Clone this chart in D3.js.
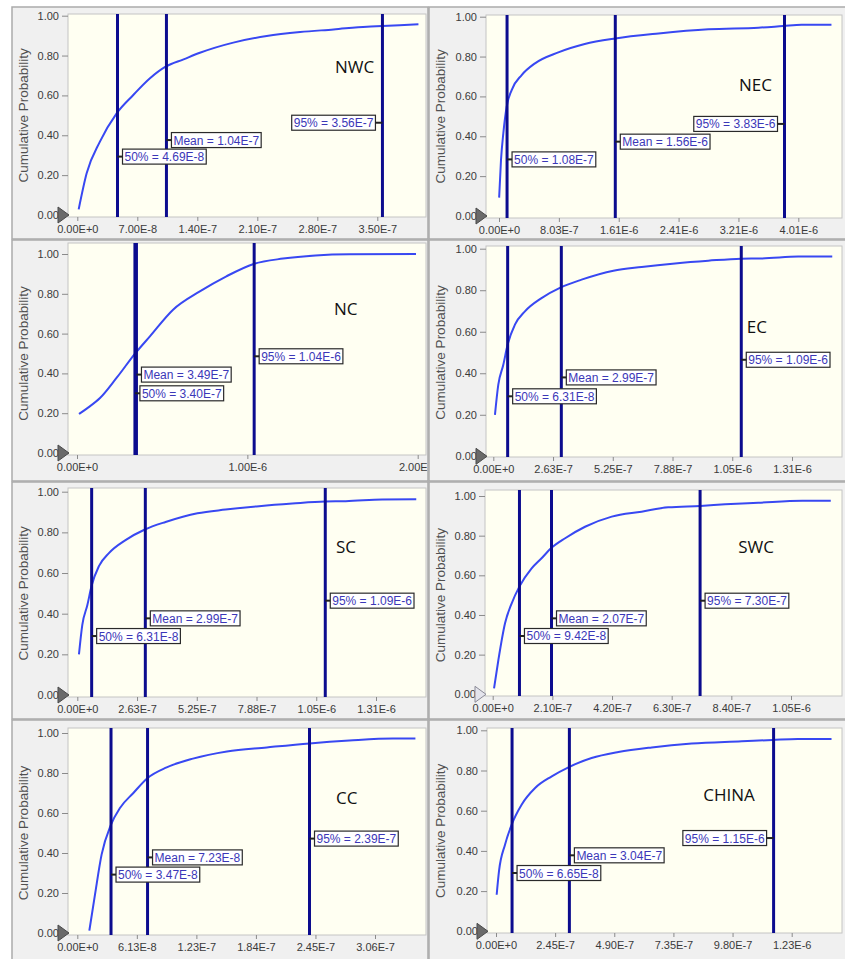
<!DOCTYPE html>
<html>
<head>
<meta charset="utf-8">
<script src="https://d3js.org/d3.v7.min.js"></script>
<style>
  body { margin: 0; background: #fff; }
  .tick text { font-family: "Liberation Sans", Arial, sans-serif; font-size: 11px; fill: #3a3a3a; }
  .tick line { stroke: #8a8a8a; }
  .domain { stroke: #9a9a9a; }
  .stat text { font-family: "Liberation Sans", Arial, sans-serif; font-size: 12px; fill: #3b37b8; }
</style>
</head>
<body>
<div id="chart"></div>
<script>
// regions and summary statistics
var regions = ["NWC", "NEC", "NC", "EC", "SC", "SWC", "CC", "CHINA"];
var p50   = [4.69e-8, 1.08e-7, 3.40e-7, 6.31e-8, 6.31e-8, 9.42e-8, 3.47e-8, 6.65e-8];
var means = [1.04e-7, 1.56e-6, 3.49e-7, 2.99e-7, 2.99e-7, 2.07e-7, 7.23e-8, 3.04e-7];
var p95   = [3.56e-7, 3.83e-6, 1.04e-6, 1.09e-6, 1.09e-6, 7.30e-7, 2.39e-7, 1.15e-6];

// x tick steps and labels
var xTickStep = [7e-8, 8.03e-7, 1e-6, 2.626e-7, 2.626e-7, 2.1e-7, 6.128e-8, 2.45e-7];
var xTickLabels = [
  ["0.00E+0", "7.00E-8", "1.40E-7", "2.10E-7", "2.80E-7", "3.50E-7"],
  ["0.00E+0", "8.03E-7", "1.61E-6", "2.41E-6", "3.21E-6", "4.01E-6"],
  ["0.00E+0", "1.00E-6", "2.00E-6"],
  ["0.00E+0", "2.63E-7", "5.25E-7", "7.88E-7", "1.05E-6", "1.31E-6"],
  ["0.00E+0", "2.63E-7", "5.25E-7", "7.88E-7", "1.05E-6", "1.31E-6"],
  ["0.00E+0", "2.10E-7", "4.20E-7", "6.30E-7", "8.40E-7", "1.05E-6"],
  ["0.00E+0", "6.13E-8", "1.23E-7", "1.84E-7", "2.45E-7", "3.06E-7"],
  ["0.00E+0", "2.45E-7", "4.90E-7", "7.35E-7", "9.80E-7", "1.23E-6"]
];
var yTicks = [0, 0.2, 0.4, 0.6, 0.8, 1.0];

// cumulative curves: [value, probability]
var nwcCdf = [[1.6e-9,0.028],[1.09e-8,0.209],[2.64e-8,0.368],[4.59e-8,0.51],[6.53e-8,0.602],[8.48e-8,0.686],
  [1.03e-7,0.744],[1.24e-7,0.781],[1.43e-7,0.814],[1.82e-7,0.865],[2.21e-7,0.898],[2.60e-7,0.918],
  [2.99e-7,0.931],[3.38e-7,0.945],[3.56e-7,0.948],[3.76e-7,0.952],[3.98e-7,0.957]];
var necCdf = [[2e-9,0.092],[2.68e-8,0.281],[5.81e-8,0.415],[1.03e-7,0.548],[1.70e-7,0.632],[3.04e-7,0.707],
  [4.83e-7,0.766],[7.96e-7,0.821],[1.15e-6,0.863],[1.56e-6,0.891],[2.14e-6,0.916],[2.81e-6,0.937],
  [3.48e-6,0.945],[3.81e-6,0.953],[4.06e-6,0.959],[4.46e-6,0.96]];
var ncCdf = [[1.2e-8,0.196],[5.7e-8,0.223],[1.35e-7,0.276],[2.32e-7,0.377],[3.44e-7,0.503],[4.28e-7,0.586],
  [5.64e-7,0.72],[7.21e-7,0.812],[8.77e-7,0.888],[1.037e-6,0.95],[1.21e-6,0.977],[1.40e-6,0.993],
  [1.60e-6,0.999],[1.99e-6,1.0]];
var ecCdf = [[7.3e-9,0.2],[2.2e-8,0.345],[4.4e-8,0.441],[6.3e-8,0.538],[9.5e-8,0.634],[1.39e-7,0.698],
  [2.12e-7,0.762],[2.97e-7,0.814],[3.88e-7,0.851],[5.28e-7,0.894],[6.52e-7,0.912],[7.99e-7,0.929],
  [9.45e-7,0.942],[1.089e-6,0.952],[1.18e-6,0.953],[1.34e-6,0.962],[1.49e-6,0.963]];
var scCdf = [[7.3e-9,0.2],[2.2e-8,0.345],[4.4e-8,0.441],[6.3e-8,0.538],[9.5e-8,0.634],[1.39e-7,0.698],
  [2.12e-7,0.762],[2.97e-7,0.814],[3.88e-7,0.851],[5.28e-7,0.894],[6.52e-7,0.912],[7.99e-7,0.929],
  [9.45e-7,0.942],[1.089e-6,0.952],[1.18e-6,0.953],[1.34e-6,0.962],[1.49e-6,0.963]];
var swcCdf = [[4.7e-9,0.03],[2.0e-8,0.173],[4.34e-8,0.358],[6.69e-8,0.459],[9.39e-8,0.543],[1.37e-7,0.635],
  [1.72e-7,0.686],[2.05e-7,0.736],[2.55e-7,0.787],[3.25e-7,0.845],[4.19e-7,0.896],[5.24e-7,0.921],
  [6.18e-7,0.943],[7.31e-7,0.95],[8.18e-7,0.958],[9.35e-7,0.966],[1.09e-6,0.976],[1.19e-6,0.976]];
var ccCdf = [[1.24e-8,0.012],[1.82e-8,0.192],[2.5e-8,0.392],[3.47e-8,0.542],[4.39e-8,0.625],[5.77e-8,0.70],
  [7.24e-8,0.775],[9.2e-8,0.828],[1.19e-7,0.872],[1.54e-7,0.908],[1.95e-7,0.928],[2.39e-7,0.948],
  [2.8e-7,0.962],[3.25e-7,0.972],[3.48e-7,0.972]];
var chinaCdf = [[2.8e-9,0.182],[1.24e-8,0.299],[3.73e-8,0.431],[6.49e-8,0.531],[1.06e-7,0.63],[1.62e-7,0.713],
  [2.31e-7,0.771],[3.0e-7,0.816],[3.96e-7,0.862],[5.07e-7,0.892],[6.45e-7,0.915],[8.11e-7,0.934],
  [1.018e-6,0.945],[1.146e-6,0.952],[1.25e-6,0.957],[1.39e-6,0.957]];
var curves = [nwcCdf, necCdf, ncCdf, ecCdf, scCdf, swcCdf, ccCdf, chinaCdf];

// panel layout (pixels): box, plot rect, y pixel of 1 and 0, x pixel of 0 and last tick,
// region name anchor, label heights (probability) and side of the 95% label
var frames = [
  {box:[12,7,428,239],  plot:[68,14,426,217],  y1:15.7,  y0:215,   xr:[77.3,377.3], name:[335,73],    lab:[0.293,0.376,0.463], left95:true},
  {box:[429,7,846,239], plot:[486,15,842,218], y1:16.7,  y0:216,   xr:[499,798.3],  name:[739,90.7],  lab:[0.284,0.373,0.462], left95:true},
  {box:[12,240,428,481],plot:[68,243,426,455], y1:254,   y0:453,   xr:[77,417.7],   name:[334,315.3], lab:[0.30,0.394,0.486],  left95:false},
  {box:[429,240,846,481],plot:[486,246,842,457],y1:248.7,y0:456.3, xr:[493.3,792],  name:[746.7,333], lab:[0.289,0.38,0.465],  left95:false},
  {box:[12,482,428,719],plot:[68,488,426,697], y1:491.7, y0:695,   xr:[77.3,376],   name:[336,553.3], lab:[0.29,0.377,0.464],  left95:false},
  {box:[429,482,846,719],plot:[485,490,842,696],y1:496,  y0:694.3, xr:[492.7,791],  name:[738.3,553.3],lab:[0.294,0.383,0.472],left95:false},
  {box:[12,720,428,960],plot:[68,728,426,935], y1:733,   y0:933,   xr:[77.3,375],   name:[336,804],   lab:[0.292,0.378,0.472], left95:false},
  {box:[429,720,846,960],plot:[487,728,842,933],y1:730.3,y0:931.3, xr:[496,791.7],  name:[703.3,801.3],lab:[0.29,0.378,0.464], left95:true}
];

var width = 845, height = 959;
var svg = d3.select("#chart").append("svg")
  .attr("width", width)
  .attr("height", height)
  .style("display", "block");

var fmt = function(v) { return v.toExponential(2).toUpperCase(); };

regions.forEach(function(region, i) {
  var f = frames[i];
  var b = f.box, p = f.plot;
  var nT = xTickLabels[i].length;
  var tickVals = d3.range(nT).map(function(k) { return k * xTickStep[i]; });

  var x = d3.scaleLinear().domain([0, tickVals[nT - 1]]).range(f.xr);
  var y = d3.scaleLinear().domain([0, 1]).range([f.y0, f.y1]);

  svg.append("clipPath").attr("id", "clipBox" + i)
    .append("rect").attr("x", b[0]).attr("y", b[1]).attr("width", b[2] - b[0]).attr("height", b[3] - b[1]);
  svg.append("clipPath").attr("id", "clipPlot" + i)
    .append("rect").attr("x", p[0]).attr("y", p[1]).attr("width", p[2] - p[0]).attr("height", p[3] - p[1]);

  var g = svg.append("g").attr("clip-path", "url(#clipBox" + i + ")");

  // panel background and plot area
  g.append("rect")
    .attr("x", b[0]).attr("y", b[1]).attr("width", b[2] - b[0]).attr("height", b[3] - b[1])
    .attr("fill", "#f0f0f0");
  g.append("rect")
    .attr("x", p[0]).attr("y", p[1]).attr("width", p[2] - p[0]).attr("height", p[3] - p[1])
    .attr("fill", "#fffff2").attr("stroke", "#c4c4c4").attr("stroke-width", 1);

  // x axis
  g.append("g")
    .attr("transform", "translate(0," + p[3] + ")")
    .call(d3.axisBottom(x).tickValues(tickVals).tickSize(4).tickPadding(4)
      .tickFormat(function(d, k) { return xTickLabels[i][k]; }))
    .call(function(a) { a.select(".domain").remove(); });

  // y axis
  g.append("g")
    .attr("transform", "translate(" + p[0] + ",0)")
    .call(d3.axisLeft(y).tickValues(yTicks).tickSize(6).tickPadding(3).tickFormat(d3.format(".2f")))
    .call(function(a) { a.select(".domain").remove(); });

  g.append("text")
    .attr("transform", "translate(" + (b[0] + 11) + "," + ((f.y0 + f.y1) / 2) + ") rotate(-90)")
    .attr("dy", "0.35em")
    .style("text-anchor", "middle")
    .style("font-family", "'Liberation Sans', Arial, sans-serif")
    .style("font-size", "13.5px")
    .style("fill", "#505050")
    .text("Cumulative Probability");

  // slider marker at 0.00
  var light = region === "SWC";
  g.append("path")
    .attr("d", "M" + (p[0] - 10) + "," + (f.y0 - 8) + "L" + (p[0] + 1) + "," + f.y0 + "L" + (p[0] - 10) + "," + (f.y0 + 8) + "Z")
    .attr("fill", light ? "#e4e4ec" : "#6a6a6a")
    .attr("stroke", light ? "#8a8a96" : "#4a4a4a")
    .attr("stroke-width", 1);

  var pg = g.append("g").attr("clip-path", "url(#clipPlot" + i + ")");

  // cumulative curve
  pg.append("path")
    .datum(curves[i])
    .attr("d", d3.line()
      .x(function(d) { return x(d[0]); })
      .y(function(d) { return y(d[1]); })
      .curve(d3.curveMonotoneX))
    .attr("fill", "none")
    .attr("stroke", "#3848f2")
    .attr("stroke-width", 2);

  // stat lines
  var stats = [
    {v: p50[i], name: "50%", h: f.lab[0], left: false},
    {v: means[i], name: "Mean", h: f.lab[1], left: false},
    {v: p95[i], name: "95%", h: f.lab[2], left: f.left95}
  ];
  pg.selectAll("line.stat")
    .data(stats)
    .enter().append("line")
    .attr("x1", function(d) { return x(d.v); })
    .attr("x2", function(d) { return x(d.v); })
    .attr("y1", p[1])
    .attr("y2", p[3])
    .attr("stroke", "#0c0c8e")
    .attr("stroke-width", 3);

  // region name
  g.append("text")
    .attr("x", f.name[0]).attr("y", f.name[1])
    .style("font-family", "'Open Sans', 'Noto Sans', sans-serif")
    .style("font-size", "17px")
    .style("fill", "#111")
    .text(region);

  // stat labels
  stats.forEach(function(s) {
    var lx = x(s.v), ly = y(s.h);
    var lg = g.append("g").attr("class", "stat");
    var t = lg.append("text")
      .attr("y", ly + 4.5)
      .text(s.name + " = " + fmt(s.v));
    var w = t.node().getComputedTextLength() + 4;
    var bx = s.left ? lx - 7 - w : lx + 5;
    t.attr("x", bx + 2);
    lg.insert("rect", "text")
      .attr("x", bx).attr("y", ly - 7.5)
      .attr("width", w).attr("height", 15)
      .attr("fill", "#fff")
      .attr("stroke", "#2a2a2a")
      .attr("stroke-width", 1.2);
    lg.append("line")
      .attr("x1", s.left ? bx + w : lx).attr("x2", s.left ? lx : bx)
      .attr("y1", ly).attr("y2", ly)
      .attr("stroke", "#222").attr("stroke-width", 2);
  });

  // panel border
  svg.append("rect")
    .attr("x", b[0]).attr("y", b[1]).attr("width", b[2] - b[0]).attr("height", b[3] - b[1])
    .attr("fill", "none").attr("stroke", "#aaaaaa").attr("stroke-width", 1.5);
});
</script>
</body>
</html>
